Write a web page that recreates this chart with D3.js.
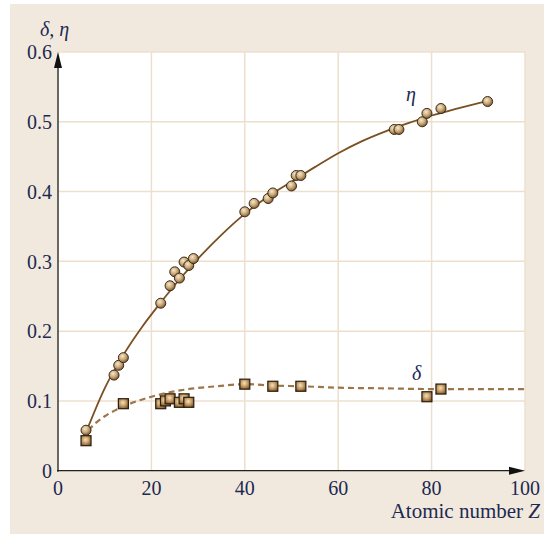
<!DOCTYPE html>
<html>
<head>
<meta charset="utf-8">
<script src="https://cdn.jsdelivr.net/npm/d3@7"></script>
<style>
  body { margin: 0; background: #fff; }
  text { font-family: "Liberation Serif", "DejaVu Serif", serif; }
</style>
</head>
<body>
<svg id="chart" width="544" height="534"></svg>
<script>
// measured eta (backscatter) points, circles
const etaZ = [6, 12, 13, 14, 22, 24, 25, 26, 27, 28, 29, 40, 42, 45, 46, 50, 51, 52, 72, 73, 78, 79, 82, 92]
const etaVal = [0.058, 0.137, 0.151, 0.162, 0.240, 0.265, 0.285, 0.276, 0.299, 0.294, 0.304, 0.371, 0.383, 0.390, 0.398, 0.408, 0.423, 0.423, 0.489, 0.489, 0.500, 0.512, 0.519, 0.529]

// measured delta (secondary electrons) points, squares
const deltaZ = [6, 14, 22, 23, 24, 26, 27, 28, 40, 46, 52, 79, 82]
const deltaVal = [0.043, 0.096, 0.096, 0.100, 0.103, 0.098, 0.103, 0.098, 0.124, 0.121, 0.121, 0.106, 0.117]

// fitted curves
const etaCurveZ = [6, 10, 14, 18, 22, 26, 30, 35, 40, 45, 50, 55, 60, 65, 70, 75, 80, 85, 92]
const etaCurveVal = [0.055, 0.118, 0.166, 0.206, 0.241, 0.274, 0.304, 0.338, 0.368, 0.393, 0.414, 0.435, 0.455, 0.472, 0.486, 0.498, 0.509, 0.518, 0.530]
const deltaCurveZ = [6.5, 8, 10, 14, 20, 27, 34, 40, 46, 52, 60, 70, 80, 100]
const deltaCurveVal = [0.058, 0.068, 0.078, 0.092, 0.106, 0.116, 0.121, 0.124, 0.122, 0.121, 0.119, 0.118, 0.117, 0.117]

const xTicks = [0, 20, 40, 60, 80, 100]
const yTicks = [0, 0.1, 0.2, 0.3, 0.4, 0.5, 0.6]

const svg = d3.select("#chart")
const textColor = "#1c2a52"
const gridColor = "#eddfce"
const fs = 20

// beige panel
svg.append("rect").attr("x", 10).attr("y", 4).attr("width", 534).attr("height", 530).attr("fill", "#f2e9de")

const x = d3.scaleLinear().domain([0, 100]).range([58, 525])
const y = d3.scaleLinear().domain([0, 0.6]).range([470.7, 52])

// plot area
svg.append("rect")
    .attr("x", x(0)).attr("y", y(0.6))
    .attr("width", x(100) - x(0)).attr("height", y(0) - y(0.6))
    .attr("fill", "#fff").attr("stroke", gridColor).attr("stroke-width", 1.5)

const defs = svg.append("defs")
const grad = defs.append("radialGradient").attr("id", "ball").attr("cx", "40%").attr("cy", "35%").attr("r", "65%")
grad.append("stop").attr("offset", "0%").attr("stop-color", "#f7e8cc")
grad.append("stop").attr("offset", "55%").attr("stop-color", "#c9a878")
grad.append("stop").attr("offset", "100%").attr("stop-color", "#7d5a30")
const sq = defs.append("radialGradient").attr("id", "box").attr("cx", "45%").attr("cy", "40%").attr("r", "70%")
sq.append("stop").attr("offset", "0%").attr("stop-color", "#f4e2c0")
sq.append("stop").attr("offset", "50%").attr("stop-color", "#c49a62")
sq.append("stop").attr("offset", "100%").attr("stop-color", "#6e4a20")

// grid
const g = svg.append("g")
g.selectAll(".vg").data(xTicks.slice(1, -1)).enter().append("line")
    .attr("x1", d => x(d)).attr("x2", d => x(d)).attr("y1", y(0)).attr("y2", y(0.6))
    .attr("stroke", gridColor).attr("stroke-width", 1.5)
g.selectAll(".hg").data(yTicks.slice(1, -1)).enter().append("line")
    .attr("x1", x(0)).attr("x2", x(100)).attr("y1", d => y(d)).attr("y2", d => y(d))
    .attr("stroke", gridColor).attr("stroke-width", 1.5)

// axes with arrows
svg.append("line").attr("x1", x(0)).attr("x2", x(0)).attr("y1", y(0) + 1).attr("y2", y(0.6) + 10)
    .attr("stroke", "#222").attr("stroke-width", 1.3)
svg.append("line").attr("x1", x(0) - 1).attr("x2", x(100) - 10).attr("y1", y(0)).attr("y2", y(0))
    .attr("stroke", "#222").attr("stroke-width", 1.3)
svg.append("path")
    .attr("d", `M${x(0)},${y(0.6)} L${x(0) - 4},${y(0.6) + 16} L${x(0) + 4},${y(0.6) + 16}Z`)
    .attr("fill", "#111")
svg.append("path")
    .attr("d", `M${x(100)},${y(0)} L${x(100) - 16},${y(0) - 4} L${x(100) - 16},${y(0) + 4}Z`)
    .attr("fill", "#111")

// tick labels
svg.selectAll(".xt").data(xTicks).enter().append("text")
    .attr("x", d => x(d)).attr("y", 495)
    .attr("text-anchor", "middle").attr("font-size", fs).attr("fill", textColor)
    .text(d => d)
svg.selectAll(".yt").data(yTicks).enter().append("text")
    .attr("x", 52).attr("y", d => y(d)).attr("dy", "0.36em")
    .attr("text-anchor", "end").attr("font-size", fs).attr("fill", textColor)
    .text(d => d === 0 ? "0" : d.toFixed(1))

svg.append("text").attr("x", 540).attr("y", 518).attr("text-anchor", "end")
    .attr("font-size", 21).attr("fill", textColor)
    .html('Atomic number <tspan font-style="italic">Z</tspan>')
svg.append("text").attr("x", 40).attr("y", 36)
    .attr("font-size", fs).attr("font-style", "italic").attr("fill", textColor)
    .text("δ, η")

// curves
const line = d3.line().x(d => x(d[0])).y(d => y(d[1])).curve(d3.curveMonotoneX)
svg.append("path").datum(etaCurveZ.map((z, i) => [z, etaCurveVal[i]]))
    .attr("d", line).attr("fill", "none").attr("stroke", "#7a4f22").attr("stroke-width", 1.8)
svg.append("path").datum(deltaCurveZ.map((z, i) => [z, deltaCurveVal[i]]))
    .attr("d", line).attr("fill", "none").attr("stroke", "#9c7648").attr("stroke-width", 2.2)
    .attr("stroke-dasharray", "6,4")

// markers
svg.selectAll(".sq").data(deltaZ.map((z, i) => [z, deltaVal[i]])).enter().append("rect")
    .attr("x", d => x(d[0]) - 5).attr("y", d => y(d[1]) - 5)
    .attr("width", 10).attr("height", 10)
    .attr("fill", "url(#box)").attr("stroke", "#2a1d10").attr("stroke-width", 1.2)
svg.selectAll(".ball").data(etaZ.map((z, i) => [z, etaVal[i]])).enter().append("circle")
    .attr("cx", d => x(d[0])).attr("cy", d => y(d[1])).attr("r", 5)
    .attr("fill", "url(#ball)").attr("stroke", "#3a2a18").attr("stroke-width", 1)

// curve labels
svg.append("text").attr("x", 406).attr("y", 101).attr("font-size", fs).attr("font-style", "italic")
    .attr("fill", textColor).text("η")
svg.append("text").attr("x", 412).attr("y", 380).attr("font-size", fs).attr("font-style", "italic")
    .attr("fill", textColor).text("δ")
</script>
</body>
</html>
